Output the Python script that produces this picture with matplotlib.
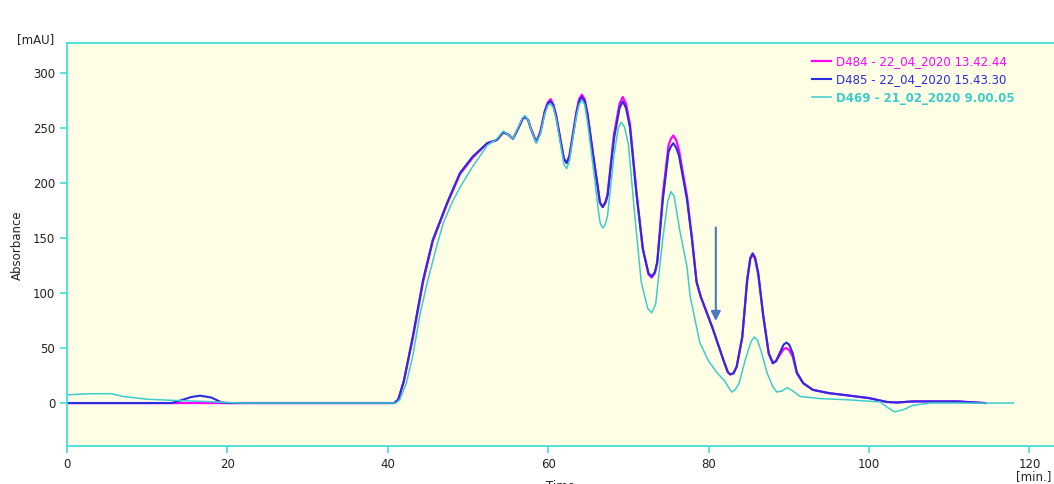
import matplotlib
matplotlib.use('Agg')
import matplotlib.pyplot as plt

# D485 - blue
t_blue = [0, 13.0, 14.0, 15.5, 16.6, 18.0, 19.3, 20, 40.8, 41.3, 42.0, 43.1, 44.4, 45.6, 47.4, 49.0,
          50.6, 52.4, 53.6, 54.4, 55.0, 55.6, 56.3, 56.8, 57.1, 57.5, 57.8, 58.5, 59.0, 59.6, 59.95,
          60.3, 60.65, 61.0, 61.7, 61.95, 62.3, 62.65, 62.9, 63.5, 63.85, 64.2, 64.55, 64.9, 65.6,
          66.3, 66.45, 66.8, 67.15, 67.4, 68.2, 68.9, 69.3, 69.7, 70.2, 71.0, 71.8, 72.5, 72.9, 73.3,
          73.6, 74.3, 75.0, 75.3, 75.6, 75.95, 76.3, 77.3, 77.9, 78.5, 79.0, 80.5, 81.8, 82.4, 82.7,
          83.1, 83.5, 84.2, 84.8, 85.2, 85.5, 85.8, 86.2, 86.8, 87.5, 88.0, 88.4, 88.9, 89.35, 89.7,
          90.05, 90.5, 91.0, 91.8, 93.0, 95.0, 97.3, 100.0, 102.2, 103.5, 105.5, 111.0, 114.5]
a_blue = [0, 0, 2, 5.5, 6.7, 5, 0.5, 0, 0, 3, 20, 60, 112, 148, 182, 209,
          224, 236, 239, 246, 244, 240, 250, 258, 260, 257, 250, 237, 245, 265, 272,
          274, 270, 260, 232, 222, 218, 224, 235, 262, 274, 278, 274, 262, 225,
          190, 182, 178, 182, 188, 240, 268, 274, 268, 250, 190, 140, 118, 115, 119,
          128, 185, 228, 233, 236, 232, 225, 185, 150, 110, 97, 68, 40, 28, 26,
          27, 33, 60, 110, 132, 136, 132, 118, 80, 45, 36, 38, 46, 53, 55,
          53, 45, 28, 18, 12, 9, 7, 4.5, 1, 0.5, 1.5, 1.5, 0]

# D484 - magenta
t_mag = [0, 40.8, 41.3, 42.0, 43.1, 44.4, 45.6, 47.4, 49.0, 50.6, 52.4, 53.6, 54.4, 55.0, 55.6,
         56.3, 56.8, 57.1, 57.5, 57.8, 58.5, 59.0, 59.6, 59.95, 60.3, 60.65, 61.0, 61.7, 61.95,
         62.3, 62.65, 62.9, 63.5, 63.85, 64.2, 64.55, 64.9, 65.6, 66.3, 66.45, 66.8, 67.15, 67.4,
         68.2, 68.9, 69.3, 69.7, 70.2, 71.0, 71.8, 72.5, 72.9, 73.3, 73.6, 74.3, 75.0, 75.3, 75.6,
         75.95, 76.3, 77.3, 77.9, 78.5, 79.0, 80.5, 81.8, 82.4, 82.7, 83.1, 83.5, 84.2, 84.8, 85.2,
         85.5, 85.8, 86.2, 86.8, 87.5, 88.0, 88.4, 88.9, 89.35, 89.7, 90.05, 90.5, 91.0, 91.8,
         93.0, 95.0, 97.3, 100.0, 102.2, 103.5, 105.5, 111.0, 114.5]
a_mag = [0, 0, 3, 20, 58, 110, 147, 181, 208, 223, 236, 239, 246, 244, 240,
         250, 258, 260, 257, 250, 237, 246, 266, 273, 276, 271, 261, 232, 222,
         218, 225, 236, 264, 276, 280, 276, 263, 226, 190, 182, 178, 183, 190,
         244, 272, 278, 272, 253, 192, 140, 117, 114, 118, 128, 190, 234, 240, 243,
         239, 230, 188, 152, 110, 97, 68, 40, 28, 26, 27, 33, 60, 112, 131,
         135, 131, 116, 80, 45, 37, 38, 44, 49, 50, 48, 42, 27, 18,
         12, 9, 7, 4.5, 1, 0.5, 1.5, 1.5, 0]

# D469 - cyan
t_cyan = [0, 3.0, 5.5, 7.0, 10.0, 13.0, 17.0, 20.0, 22.0, 41.0, 41.5, 42.3, 43.1, 44.0, 44.9,
          46.0, 46.9, 48.0, 49.0, 50.6, 52.4, 53.6, 54.4, 55.0, 55.6, 56.3, 56.8, 57.1, 57.5, 57.8,
          58.5, 59.0, 59.6, 59.95, 60.3, 60.65, 61.0, 61.7, 61.95, 62.3, 62.65, 62.9, 63.5, 63.85,
          64.2, 64.55, 64.9, 65.6, 66.3, 66.5, 66.8, 67.1, 67.4, 68.2, 68.75, 69.1, 69.5, 70.0, 70.8,
          71.6, 72.4, 72.9, 73.4, 74.3, 74.9, 75.3, 75.7, 76.4, 77.3, 77.7, 78.9, 80.0, 81.0, 82.0,
          82.6, 82.9, 83.3, 83.8, 84.6, 85.3, 85.7, 86.1, 86.6, 87.3, 88.0, 88.5, 89.2, 89.8, 90.5,
          91.4, 94.0, 97.3, 101.4, 102.3, 103.2, 104.3, 105.5, 107.6, 118.0]
a_cyan = [7.5, 8.5, 8.5, 6, 3.5, 2.5, 1.5, 0.5, 0, 0, 3, 18, 42, 80, 109,
          140, 163, 182, 196, 215, 234, 240, 247, 244, 240, 251, 259, 261, 257, 250,
          236, 244, 263, 270, 272, 268, 258, 228, 217, 213, 220, 232, 260, 271,
          275, 271, 255, 215, 172, 163, 159, 162, 170, 225, 250, 255, 251, 235, 170,
          110, 86, 82, 90, 150, 183, 192, 188, 157, 124, 97, 55, 38, 28, 20,
          13, 10, 12, 18, 40, 56, 60, 57, 46, 27, 15, 10, 11, 14, 11,
          6, 4, 3, 1, -4, -8, -6, -2, 0, 0]

labels = ['D484 - 22_04_2020 13.42.44', 'D485 - 22_04_2020 15.43.30', 'D469 - 21_02_2020 9.00.05']
colors = ['#ff00ff', '#2b2be0', '#3ccccc']
x_ticks = [0, 20, 40, 60, 80, 100, 120]
y_ticks = [0, 50, 100, 150, 200, 250, 300]

spine_col = '#40e0d8'
fig = plt.figure(figsize=(10.54, 4.84), dpi=100)
ax = fig.add_axes([67 / 1054, 1 - 446 / 484, 1 - 67 / 1054, (446 - 43) / 484])
ax.set_facecolor('#ffffe6')

l1, = ax.plot(t_mag, a_mag, color=colors[0], lw=1.6)
l2, = ax.plot(t_blue, a_blue, color=colors[1], lw=1.5)
l3, = ax.plot(t_cyan, a_cyan, color=colors[2], lw=1.1)

ax.annotate('', xy=(80.9, 72), xytext=(80.9, 162),
            arrowprops=dict(arrowstyle='-|>', color='#4a78c0', lw=1.5, mutation_scale=14))

ax.set_xlim(0, (1054 - 67) / 8.02)
ax.set_ylim(-39, 327)
ax.set_xticks(x_ticks)
ax.set_yticks(y_ticks)
for s in ['left', 'bottom', 'top']:
    ax.spines[s].set_color(spine_col)
    ax.spines[s].set_linewidth(1.3)
ax.spines['right'].set_visible(False)
ax.tick_params(colors=spine_col, labelcolor='#222222', length=5, width=1.2, labelsize=8.5)

leg = ax.legend([l1, l2, l3], labels, loc='upper left', bbox_to_anchor=(812 / 1054, 1 - 55 / 484),
                bbox_transform=fig.transFigure, frameon=False, fontsize=8.5, handlelength=1.6,
                handletextpad=0.4, labelspacing=0.45, borderaxespad=0, borderpad=0)
for txt, c in zip(leg.get_texts(), colors):
    txt.set_color(c)
leg.get_texts()[2].set_fontweight('bold')

fig.text(17 / 1054, 1 - 40 / 484, '[mAU]', fontsize=8.5, color='#222222', va='center')
fig.text(17 / 1054, 1 - 245 / 484, 'Absorbance', fontsize=8.5, color='#222222', rotation=90,
         va='center', ha='center')
fig.text(560 / 1054, 1 - 487 / 484, 'Time', fontsize=8.5, color='#222222', va='center', ha='center')
fig.text(1051 / 1054, 1 - 477 / 484, '[min.]', fontsize=8.5, color='#222222', va='center', ha='right')

fig.savefig('out.png', dpi=100)
